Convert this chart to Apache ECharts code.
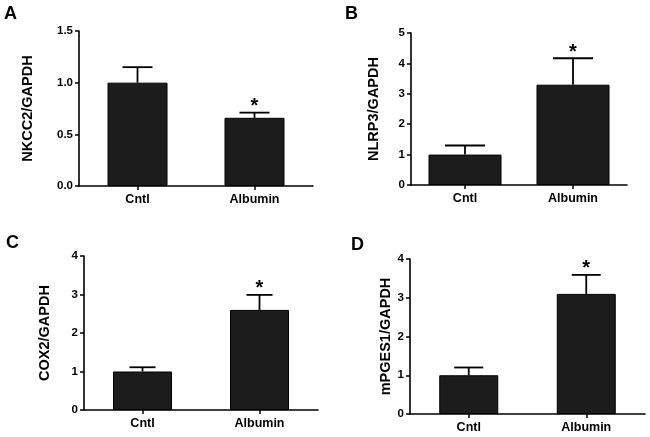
<!DOCTYPE html>
<html>
<head>
<meta charset="utf-8">
<script src="https://cdn.jsdelivr.net/npm/echarts@6/dist/echarts.min.js"></script>
<style>html,body{margin:0;padding:0;background:#fff}#c{width:650px;height:437px}</style>
</head>
<body>
<div id="c"></div>
<script>
// ---- data ----
var categories = ['Cntl', 'Albumin'];
var nkcc2Mean = [1.0, 0.66];
var nkcc2Err = [0.15, 0.05];
var nlrp3Mean = [1.0, 3.3];
var nlrp3Err = [0.30, 0.87];
var cox2Mean = [1.0, 2.6];
var cox2Err = [0.11, 0.39];
var mpges1Mean = [1.0, 3.1];
var mpges1Err = [0.20, 0.49];
var significant = [false, true];
var panelLetters = ['A', 'B', 'C', 'D'];
var yTitles = ['NKCC2/GAPDH', 'NLRP3/GAPDH', 'COX2/GAPDH', 'mPGES1/GAPDH'];
var yMax = [1.5, 5, 4, 4];
var yInterval = [0.5, 1, 1, 1];

var panels = [
  {mean: nkcc2Mean, err: nkcc2Err, grid: {left: 79, right: 337, top: 31, bottom: 251}, barW: 60, capW: 30, gap: 44, dec: 1},
  {mean: nlrp3Mean, err: nlrp3Err, grid: {left: 411, right: 23, top: 33, bottom: 252}, barW: 73, capW: 40, gap: 30, dec: 0},
  {mean: cox2Mean, err: cox2Err, grid: {left: 84, right: 332, top: 256, bottom: 27}, barW: 59, capW: 26, gap: 32, dec: 0},
  {mean: mpges1Mean, err: mpges1Err, grid: {left: 410, right: 5, top: 259, bottom: 23}, barW: 59, capW: 29, gap: 16, dec: 0}
];
var letterPos = [[10, 15], [351, 15], [12, 244], [357, 246]];

var FONT = '"Liberation Sans", Arial, sans-serif';
var chart = echarts.init(document.getElementById('c'), null, {renderer: 'canvas'});
var grids = [], xAxes = [], yAxes = [], series = [], graphics = [];

panels.forEach(function (p, i) {
  grids.push({left: p.grid.left, right: p.grid.right, top: p.grid.top, bottom: p.grid.bottom, containLabel: false});
  xAxes.push({
    type: 'category', gridIndex: i, data: categories,
    axisLine: {lineStyle: {color: '#000', width: 1.6}},
    axisTick: {show: true, alignWithLabel: true, length: 4, lineStyle: {color: '#000', width: 1.5}},
    axisLabel: {color: '#000', fontFamily: FONT, fontWeight: 'bold', fontSize: 12.5, margin: 7},
    splitLine: {show: false}
  });
  yAxes.push({
    type: 'value', gridIndex: i, min: 0, max: yMax[i], interval: yInterval[i],
    name: yTitles[i], nameLocation: 'middle', nameGap: p.gap, nameRotate: 90,
    nameTextStyle: {color: '#000', fontFamily: FONT, fontWeight: 'bold', fontSize: 14.5},
    axisLine: {show: true, lineStyle: {color: '#000', width: 1.6}},
    axisTick: {show: true, length: 4, lineStyle: {color: '#000', width: 1.5}},
    axisLabel: {color: '#000', fontFamily: FONT, fontWeight: 'bold', fontSize: 11.5, margin: 6,
      formatter: (function (d) { return function (v) { return v.toFixed(d); }; })(p.dec)},
    splitLine: {show: false}
  });
  series.push({
    type: 'bar', xAxisIndex: i, yAxisIndex: i, data: p.mean, barWidth: p.barW,
    itemStyle: {color: '#1c1c1c', borderColor: '#000', borderWidth: 1}, silent: true
  });
  var edata = p.mean.map(function (m, k) { return [k, m, p.err[k], significant[k] ? 1 : 0]; });
  series.push({
    type: 'custom', xAxisIndex: i, yAxisIndex: i, data: edata, silent: true, z: 5,
    renderItem: (function (capW) {
      return function (params, api) {
        var idx = api.value(0), m = api.value(1), e = api.value(2), s = api.value(3);
        var base = api.coord([idx, m]);
        var top = api.coord([idx, m + e]);
        var children = [
          {type: 'line', shape: {x1: base[0], y1: base[1], x2: top[0], y2: top[1]}, style: {stroke: '#000', lineWidth: 1.8}},
          {type: 'line', shape: {x1: top[0] - capW / 2, y1: top[1], x2: top[0] + capW / 2, y2: top[1]}, style: {stroke: '#000', lineWidth: 1.8}}
        ];
        if (s) {
          children.push({type: 'text', x: top[0], y: top[1] + 4,
            style: {text: '*', fill: '#000', font: 'bold 20px ' + FONT, align: 'center', verticalAlign: 'bottom'}});
        }
        return {type: 'group', children: children};
      };
    })(p.capW)
  });
  graphics.push({type: 'text', left: letterPos[i][0] - 6, top: letterPos[i][1] - 10,
    style: {text: panelLetters[i], fill: '#000', font: 'bold 18px ' + FONT}});
});

chart.setOption({
  animation: false,
  backgroundColor: '#fff',
  grid: grids, xAxis: xAxes, yAxis: yAxes, series: series, graphic: graphics
});
</script>
</body>
</html>
